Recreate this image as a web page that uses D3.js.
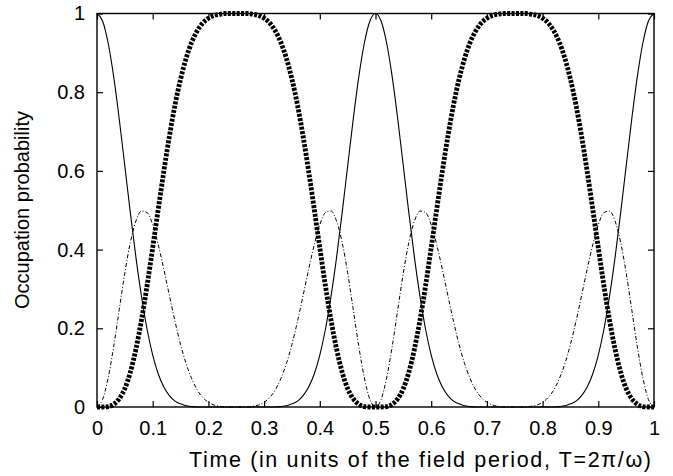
<!DOCTYPE html>
<html>
<head>
<meta charset="utf-8">
<script src="https://cdn.jsdelivr.net/npm/d3@7"></script>
<style>
  html, body { margin: 0; padding: 0; background: #fff; }
  svg { display: block; }
  text { font-family: "Liberation Sans", Arial, Helvetica, sans-serif; fill: #000; }
</style>
</head>
<body>
<svg id="chart" width="673" height="476"></svg>
<script>
// ---- data (time in units of T, probability) ----
const times = [0,0.01,0.02,0.03,0.04,0.05,0.06,0.07,0.08,0.09,0.1,0.11,0.12,0.13,0.14,0.15,0.16,0.17,0.18,0.19,0.2,0.21,0.22,0.23,0.24,0.25,
  0.26,0.27,0.28,0.29,0.3,0.31,0.32,0.33,0.34,0.35,0.36,0.37,0.38,0.39,0.4,0.41,0.42,0.43,0.44,0.45,0.46,0.47,0.48,0.49,0.5,
  0.51,0.52,0.53,0.54,0.55,0.56,0.57,0.58,0.59,0.6,0.61,0.62,0.63,0.64,0.65,0.66,0.67,0.68,0.69,0.7,0.71,0.72,0.73,0.74,0.75,
  0.76,0.77,0.78,0.79,0.8,0.81,0.82,0.83,0.84,0.85,0.86,0.87,0.88,0.89,0.9,0.91,0.92,0.93,0.94,0.95,0.96,0.97,0.98,0.99,1];

// solid thin line
const probSolid = [1,.981,.925,.839,.731,.612,.492,.379,.280,.197,.132,.084,.051,.029,.015,.008,.003,.001,0,0,0,0,0,0,0,0,
  0,0,0,0,0,0,0,.001,.003,.008,.015,.029,.051,.084,.132,.197,.280,.379,.492,.612,.731,.839,.925,.981,1,
  .981,.925,.839,.731,.612,.492,.379,.280,.197,.132,.084,.051,.029,.015,.008,.003,.001,0,0,0,0,0,0,0,0,
  0,0,0,0,0,0,0,.001,.003,.008,.015,.029,.051,.084,.132,.197,.280,.379,.492,.612,.731,.839,.925,.981,1];

// thin dash-dot line
const probDashDot = [0,.019,.074,.154,.248,.341,.419,.473,.498,.494,.463,.412,.350,.283,.218,.159,.110,.072,.043,.024,.012,.005,.002,0,0,0,
  0,0,.002,.005,.012,.024,.043,.072,.110,.159,.218,.283,.350,.412,.463,.494,.498,.473,.419,.341,.248,.154,.074,.019,0,
  .019,.074,.154,.248,.341,.419,.473,.498,.494,.463,.412,.350,.283,.218,.159,.110,.072,.043,.024,.012,.005,.002,0,0,0,
  0,0,.002,.005,.012,.024,.043,.072,.110,.159,.218,.283,.350,.412,.463,.494,.498,.473,.419,.341,.248,.154,.074,.019,0];

// thick dotted line
const probDotted = [0,0,.001,.007,.021,.047,.089,.148,.222,.309,.405,.503,.599,.688,.767,.833,.886,.927,.956,.976,.988,.995,.998,1,1,1,
  1,1,.998,.995,.988,.976,.956,.927,.886,.833,.767,.688,.599,.503,.405,.309,.222,.148,.089,.047,.021,.007,.001,0,0,
  0,.001,.007,.021,.047,.089,.148,.222,.309,.405,.503,.599,.688,.767,.833,.886,.927,.956,.976,.988,.995,.998,1,1,1,
  1,1,.998,.995,.988,.976,.956,.927,.886,.833,.767,.688,.599,.503,.405,.309,.222,.148,.089,.047,.021,.007,.001,0,0];

const xTicks = [0,0.1,0.2,0.3,0.4,0.5,0.6,0.7,0.8,0.9,1];
const xTickLabels = ["0","0.1","0.2","0.3","0.4","0.5","0.6","0.7","0.8","0.9","1"];
const yTicks = [0,0.2,0.4,0.6,0.8,1];
const yTickLabels = ["0","0.2","0.4","0.6","0.8","1"];
const xTitle = "Time (in units of the field period, T=2\u03C0/\u03C9)";
const yTitle = "Occupation probability";

// ---- layout ----
const svg = d3.select("#chart");
const L = 97, R = 654, T = 13.5, B = 407;
const x = d3.scaleLinear().domain([0, 1]).range([L, R]);
const y = d3.scaleLinear().domain([0, 1]).range([B, T]);
const tickLen = 6;

// curves
function series(vals) { return times.map((t, i) => [t, vals[i]]); }
const line = d3.line().x(d => x(d[0])).y(d => y(d[1])).curve(d3.curveMonotoneX);

const plot = svg.append("g");
plot.append("path").datum(series(probSolid))
  .attr("d", line).attr("fill", "none").attr("stroke", "#000").attr("stroke-width", 1.1);
plot.append("path").datum(series(probDashDot))
  .attr("d", line).attr("fill", "none").attr("stroke", "#000").attr("stroke-width", 1)
  .attr("stroke-dasharray", "4,2,1,2");
plot.append("path").datum(series(probDotted))
  .attr("d", line).attr("fill", "none").attr("stroke", "#000").attr("stroke-width", 4.8)
  .attr("stroke-dasharray", "3,1.4");

// axes (ticks inward on all four sides)
const axB = d3.axisBottom(x).tickValues(xTicks).tickSize(-tickLen).tickFormat((d, i) => xTickLabels[i]).tickPadding(14);
const axT = d3.axisTop(x).tickValues(xTicks).tickSize(-tickLen).tickFormat("");
const axL = d3.axisLeft(y).tickValues(yTicks).tickSize(-tickLen).tickFormat((d, i) => yTickLabels[i]).tickPadding(12);
const axR = d3.axisRight(y).tickValues(yTicks).tickSize(-tickLen).tickFormat("");

function style(g) {
  g.select(".domain").remove();
  g.selectAll(".tick line").attr("stroke", "#000").attr("stroke-width", 1.2);
  g.selectAll(".tick text").attr("font-size", 20).attr("font-family", "'Liberation Sans', Arial, sans-serif").attr("fill", "#000");
}
svg.append("g").attr("transform", `translate(0,${B})`).call(axB).call(style);
svg.append("g").attr("transform", `translate(0,${T})`).call(axT).call(style);
svg.append("g").attr("transform", `translate(${L},0)`).call(axL).call(style);
svg.append("g").attr("transform", `translate(${R},0)`).call(axR).call(style);

// frame
svg.append("rect").attr("x", L).attr("y", T).attr("width", R - L).attr("height", B - T)
  .attr("fill", "none").attr("stroke", "#000").attr("stroke-width", 1.4);

// titles
svg.append("text").attr("x", 189).attr("y", 467).attr("font-size", 21.5)
  .attr("text-anchor", "start").attr("textLength", 462).attr("lengthAdjust", "spacing").text(xTitle);
svg.append("text").attr("transform", "translate(29,210) rotate(-90)").attr("font-size", 20)
  .attr("text-anchor", "middle").text(yTitle);
</script>
</body>
</html>
